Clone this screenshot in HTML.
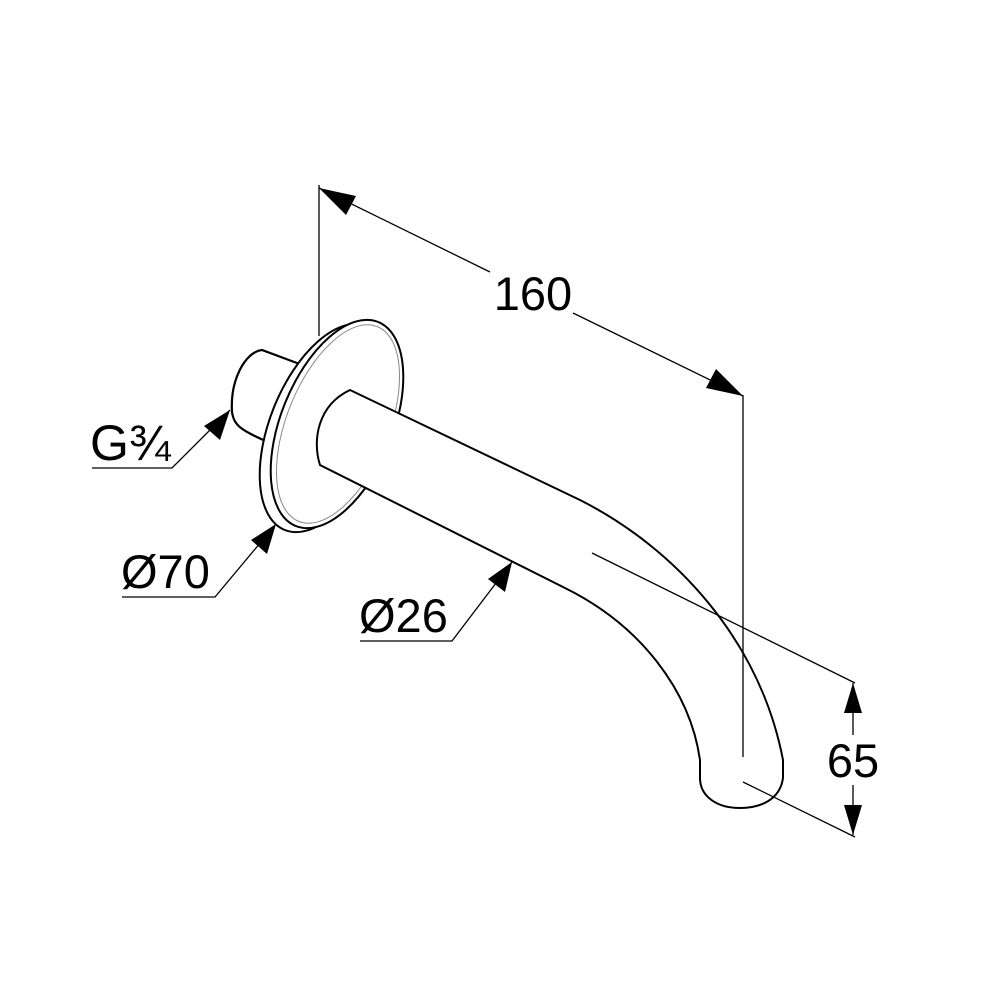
<!DOCTYPE html>
<html><head><meta charset="utf-8"><style>
html,body{margin:0;padding:0;background:#fff}
svg{display:block}
text{font-family:"Liberation Sans",Arial,sans-serif;fill:#000}
</style></head><body>
<svg width="1000" height="1000" viewBox="0 0 1000 1000" xmlns="http://www.w3.org/2000/svg">
<g fill="none" stroke="#000" stroke-width="1.6">
<!-- stub -->
<path d="M305,366 L262,350 C245,352 230,380 232,412 C234,425 240,430 268,442" fill="#fff" stroke-width="2.2"/>
<!-- flange back -->
<ellipse cx="326" cy="428" rx="56" ry="110" transform="rotate(22 326 428)" fill="#fff" stroke-width="2"/>
<!-- flange front -->
<ellipse cx="337" cy="424" rx="56" ry="110" transform="rotate(22 337 424)" fill="#fff" stroke-width="2"/>
<ellipse cx="338" cy="424" rx="51" ry="105" transform="rotate(22 338 424)" stroke="#888" stroke-width="1"/>
<!-- spout -->
<path d="M350,390 L580,500 C675,548 760,640 783,760 L783,778 C780,800 760,808 740,808 C715,808 700,795 700,778 L700,760 C690,690 640,625 565,588 L320,465 C312,440 318,405 350,390 Z" fill="#fff" stroke-width="2"/>
<!-- 160 dimension -->
<line x1="319" y1="185" x2="319" y2="336" stroke-width="1.3"/>
<line x1="743" y1="395" x2="743" y2="757" stroke-width="1.3"/>
<line x1="319" y1="188" x2="490" y2="272" stroke-width="1.3"/>
<line x1="573" y1="313" x2="743" y2="396" stroke-width="1.3"/>
<!-- centerline & 65 -->
<line x1="592" y1="553" x2="855" y2="683" stroke-width="1.3"/>
<line x1="743" y1="782" x2="855" y2="837" stroke-width="1.3"/>
<line x1="853" y1="683" x2="853" y2="735" stroke-width="1.3"/>
<line x1="853" y1="785" x2="853" y2="835" stroke-width="1.3"/>
<!-- leaders -->
<polyline points="92,468 172,468 230,410" stroke-width="1.3"/>
<polyline points="122,597 215,597 276,524" stroke-width="1.3"/>
<polyline points="360,641 452,641 512,562" stroke-width="1.3"/>
</g>
<g fill="#000">
<polygon points="319,188 356,196 346,215"/>
<polygon points="743,396 706,388 716,369"/>
<polygon points="853,683 844,713 862,713"/>
<polygon points="853,835 844,805 862,805"/>
<polygon points="230,410 220,440 204,426"/>
<polygon points="276,524 267,554 251,540"/>
<polygon points="512,562 505,592 488,579"/>
</g>
<text x="533" y="310" font-size="47" text-anchor="middle">160</text>
<text x="853" y="777" font-size="47" text-anchor="middle">65</text>
<text x="90" y="460" font-size="50">G¾</text>
<text x="121" y="588" font-size="47">Ø70</text>
<text x="359" y="632" font-size="47">Ø26</text>
</svg>
</body></html>
